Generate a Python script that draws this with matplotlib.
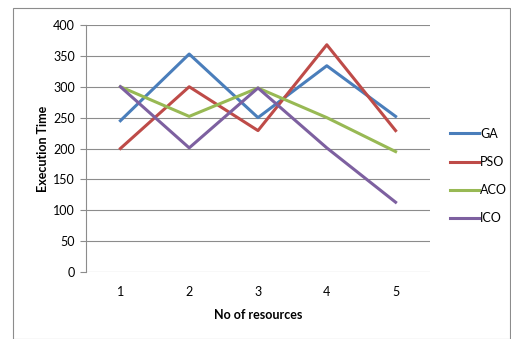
import matplotlib
matplotlib.use('Agg')
import matplotlib.pyplot as plt
from matplotlib.patches import Rectangle

resources = [1, 2, 3, 4, 5]
ga = [245, 353, 250, 334, 252]
pso = [200, 300, 229, 368, 229]
aco = [300, 252, 298, 250, 195]
ico = [300, 201, 298, 201, 113]

series = [('GA', ga, '#4A7EBB'), ('PSO', pso, '#BE4B48'),
          ('ACO', aco, '#98B954'), ('ICO', ico, '#7D60A0')]

plt.rcParams['font.family'] = ['Lato', 'DejaVu Sans']

fig = plt.figure(figsize=(5.11, 3.39), dpi=100)
fig.patches.append(Rectangle((13 / 511, 0), 497 / 511, 331 / 339, transform=fig.transFigure,
                             fill=False, edgecolor='#8c8c8c', linewidth=0.8))
ax = fig.add_axes([86 / 511, 67 / 339, 344 / 511, 247 / 339])

for name, vals, color in series:
    ax.plot(resources, vals, color=color, linewidth=2.2, label=name)

ax.set_xlim(0.5, 5.5)
ax.set_ylim(0, 400)
ax.set_yticks(range(0, 401, 50))
ax.set_xticks(resources)
ax.grid(axis='y', color='#8c8c8c', linewidth=0.8)
ax.set_axisbelow(True)
for s in ['top', 'right', 'bottom']:
    ax.spines[s].set_visible(False)
ax.spines['left'].set_color('#8c8c8c')
ax.tick_params(axis='y', length=4, color='#8c8c8c', labelsize=9, pad=4)
ax.tick_params(axis='x', length=0, labelsize=9, pad=10)

ax.set_xlabel('No of resources', fontsize=9, fontweight='bold', labelpad=8)
ax.set_ylabel('Execution Time', fontsize=9, fontweight='bold', labelpad=3)

fig.legend(loc='center left', bbox_to_anchor=(439 / 511, 1 - 176 / 339), frameon=False,
           fontsize=9, handlelength=2.3, handletextpad=0.1, labelspacing=1.3)

fig.savefig('out.png', dpi=100)
